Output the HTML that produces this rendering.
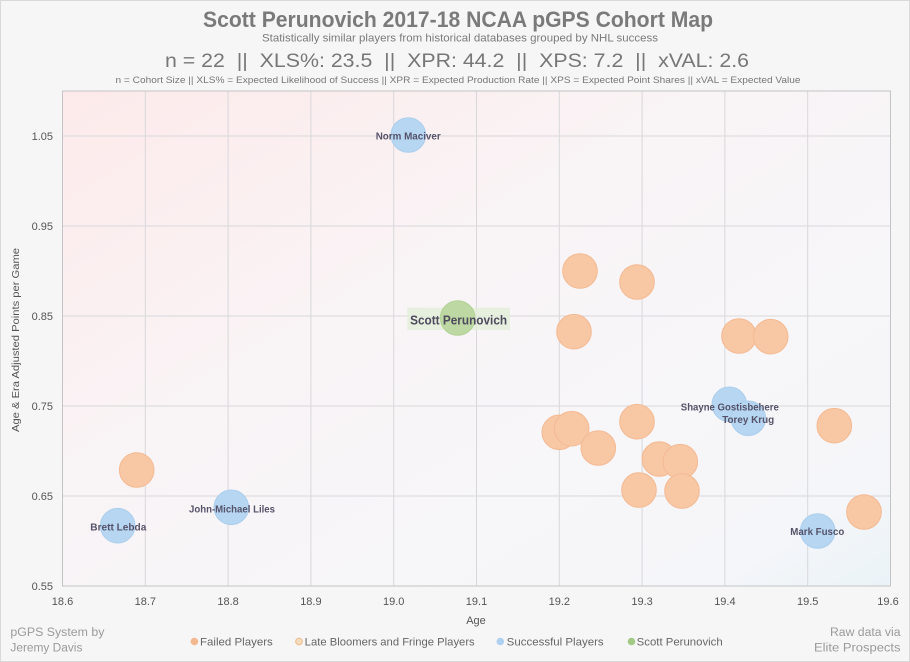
<!DOCTYPE html>
<html><head><meta charset="utf-8"><style>
html,body{margin:0;padding:0;background:#f6f6f7;}
svg{display:block;}
text{font-family:"Liberation Sans",sans-serif;}
.pre{white-space:pre;}
</style></head><body>
<svg width="910" height="662" viewBox="0 0 910 662" xmlns="http://www.w3.org/2000/svg">
<defs>
<linearGradient id="bg" x1="0" y1="0" x2="1" y2="1">
<stop offset="0" stop-color="#fdeaea"/>
<stop offset="0.4" stop-color="#f9f4f6"/>
<stop offset="0.7" stop-color="#f7f6f9"/>
<stop offset="0.88" stop-color="#f5f6f9"/>
<stop offset="1" stop-color="#eaf3f8"/>
</linearGradient>
</defs>
<rect x="0.5" y="0.5" width="909" height="661" fill="#f6f6f7" stroke="#d9d9d9"/>
<!-- headings -->
<text x="458" y="27" text-anchor="middle" font-size="22" font-weight="bold" fill="#7a7a7a" textLength="510" lengthAdjust="spacingAndGlyphs">Scott Perunovich 2017-18 NCAA pGPS Cohort Map</text>
<text x="460" y="41.5" text-anchor="middle" font-size="11" fill="#7a7a7a" textLength="396" lengthAdjust="spacingAndGlyphs">Statistically similar players from historical databases grouped by NHL success</text>
<text class="pre" xml:space="preserve" x="457" y="67" text-anchor="middle" font-size="19" fill="#777" textLength="584" lengthAdjust="spacingAndGlyphs">n = 22  ||  XLS%: 23.5  ||  XPR: 44.2  ||  XPS: 7.2  ||  xVAL: 2.6</text>
<text x="458" y="83" text-anchor="middle" font-size="9.5" fill="#777" textLength="685" lengthAdjust="spacingAndGlyphs">n = Cohort Size || XLS% = Expected Likelihood of Success || XPR = Expected Production Rate || XPS = Expected Point Shares || xVAL = Expected Value</text>
<!-- plot area -->
<rect x="62.5" y="91" width="828" height="495" fill="url(#bg)"/>
<g stroke="#d8d8db" stroke-width="1">
<line x1="145.3" y1="91" x2="145.3" y2="586"/>
<line x1="228.1" y1="91" x2="228.1" y2="586"/>
<line x1="310.9" y1="91" x2="310.9" y2="586"/>
<line x1="393.7" y1="91" x2="393.7" y2="586"/>
<line x1="476.5" y1="91" x2="476.5" y2="586"/>
<line x1="559.3" y1="91" x2="559.3" y2="586"/>
<line x1="642.1" y1="91" x2="642.1" y2="586"/>
<line x1="724.9" y1="91" x2="724.9" y2="586"/>
<line x1="807.7" y1="91" x2="807.7" y2="586"/>
<line x1="62.5" y1="136" x2="890.5" y2="136"/>
<line x1="62.5" y1="226" x2="890.5" y2="226"/>
<line x1="62.5" y1="316" x2="890.5" y2="316"/>
<line x1="62.5" y1="406" x2="890.5" y2="406"/>
<line x1="62.5" y1="496" x2="890.5" y2="496"/>
</g>
<rect x="62.5" y="91" width="828" height="495" fill="none" stroke="#c4c4c6" stroke-width="1"/>
<!-- y tick labels -->
<g font-size="11" fill="#555" text-anchor="end">
<text x="53" y="140">1.05</text>
<text x="53" y="230">0.95</text>
<text x="53" y="320">0.85</text>
<text x="53" y="410">0.75</text>
<text x="53" y="500">0.65</text>
<text x="53" y="590">0.55</text>
</g>
<!-- x tick labels -->
<g font-size="11" fill="#555" text-anchor="middle">
<text x="62.5" y="605">18.6</text>
<text x="145.3" y="605">18.7</text>
<text x="228.1" y="605">18.8</text>
<text x="310.9" y="605">18.9</text>
<text x="393.7" y="605">19.0</text>
<text x="476.5" y="605">19.1</text>
<text x="559.3" y="605">19.2</text>
<text x="642.1" y="605">19.3</text>
<text x="724.9" y="605">19.4</text>
<text x="807.7" y="605">19.5</text>
<text x="888" y="605">19.6</text>
</g>
<text x="476" y="624" text-anchor="middle" font-size="11" fill="#555">Age</text>
<text transform="translate(19,340) rotate(-90)" text-anchor="middle" font-size="10.5" fill="#555" textLength="184" lengthAdjust="spacingAndGlyphs">Age &amp; Era Adjusted Points per Game</text>
<!-- orange bubbles -->
<g fill="#f8c7a4" stroke="#f4ba93" stroke-width="1">
<circle cx="136.7" cy="470" r="17.3"/>
<circle cx="580" cy="271" r="17.3"/>
<circle cx="637" cy="282" r="17.3"/>
<circle cx="574" cy="331.7" r="17.3"/>
<circle cx="739" cy="336" r="17.3"/>
<circle cx="770.7" cy="336.7" r="17.3"/>
<circle cx="559.3" cy="432.3" r="17.3"/>
<circle cx="571.7" cy="428.7" r="17.3"/>
<circle cx="598.3" cy="448" r="17.3"/>
<circle cx="637" cy="421.7" r="17.3"/>
<circle cx="659.3" cy="459" r="17.3"/>
<circle cx="680.3" cy="461.7" r="17.3"/>
<circle cx="639" cy="490" r="17.3"/>
<circle cx="682" cy="491" r="17.3"/>
<circle cx="834.3" cy="425.7" r="17.3"/>
<circle cx="864" cy="512" r="17.3"/>
</g>
<!-- blue bubbles -->
<g fill="#b6d6f1" stroke="#abcfee" stroke-width="1">
<circle cx="408.3" cy="135" r="17.3"/>
<circle cx="729.3" cy="404.3" r="17.3"/>
<circle cx="748.3" cy="418.3" r="17.3"/>
<circle cx="817.7" cy="531" r="17.3"/>
<circle cx="117.7" cy="525.7" r="17.3"/>
<circle cx="231.3" cy="507.3" r="17.3"/>
</g>
<!-- green -->
<rect x="407.3" y="307.7" width="102.7" height="22.3" fill="#e4eedb" opacity="0.85"/>
<circle cx="457.7" cy="318" r="17.3" fill="#bdd8a2" stroke="#b2d196" stroke-width="1"/>
<!-- labels -->
<g font-size="10.5" font-weight="bold" fill="#55526a" text-anchor="middle">
<text x="408.2" y="139.5" textLength="65" lengthAdjust="spacingAndGlyphs">Norm Maciver</text>
<text x="729.8" y="410.5" textLength="98" lengthAdjust="spacingAndGlyphs">Shayne Gostisbehere</text>
<text x="748.2" y="423" textLength="52" lengthAdjust="spacingAndGlyphs">Torey Krug</text>
<text x="817.3" y="535" textLength="54" lengthAdjust="spacingAndGlyphs">Mark Fusco</text>
<text x="118.3" y="530.3" textLength="56" lengthAdjust="spacingAndGlyphs">Brett Lebda</text>
<text x="232" y="512.3" textLength="86" lengthAdjust="spacingAndGlyphs">John-Michael Liles</text>
</g>
<text x="458.6" y="324.3" text-anchor="middle" font-size="12.5" font-weight="bold" fill="#4e4b5e" textLength="97" lengthAdjust="spacingAndGlyphs">Scott Perunovich</text>
<!-- legend -->
<circle cx="194.4" cy="641.5" r="3.8" fill="#f4b891"/>
<text x="200" y="645.5" font-size="11" fill="#666" textLength="72.8" lengthAdjust="spacingAndGlyphs">Failed Players</text>
<circle cx="299" cy="641.5" r="3.3" fill="#f6dcbf" stroke="#efc195" stroke-width="1.2"/>
<text x="304.7" y="645.5" font-size="11" fill="#666" textLength="170" lengthAdjust="spacingAndGlyphs">Late Bloomers and Fringe Players</text>
<circle cx="500.3" cy="641.5" r="3.8" fill="#b0d0f0"/>
<text x="506.7" y="645.5" font-size="11" fill="#666" textLength="97" lengthAdjust="spacingAndGlyphs">Successful Players</text>
<circle cx="631.5" cy="641.5" r="3.8" fill="#a3c987"/>
<text x="636.7" y="645.5" font-size="11" fill="#666" textLength="86" lengthAdjust="spacingAndGlyphs">Scott Perunovich</text>
<!-- corners -->
<g font-size="11.5" fill="#9a9a9a">
<text x="10.4" y="636" textLength="94" lengthAdjust="spacingAndGlyphs">pGPS System by</text>
<text x="10.4" y="651.5" textLength="72" lengthAdjust="spacingAndGlyphs">Jeremy Davis</text>
<text x="900.5" y="636" text-anchor="end" textLength="70.5" lengthAdjust="spacingAndGlyphs">Raw data via</text>
<text x="900.5" y="651.5" text-anchor="end" textLength="86.5" lengthAdjust="spacingAndGlyphs">Elite Prospects</text>
</g>
</svg>
</body></html>
